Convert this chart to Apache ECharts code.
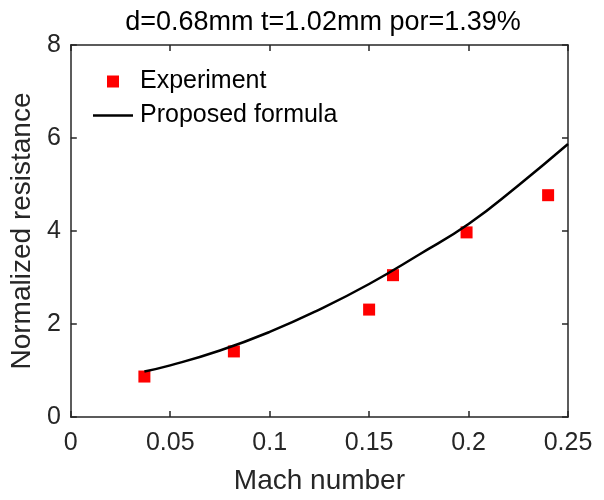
<!DOCTYPE html>
<html>
<head>
<meta charset="utf-8">
<script src="https://cdn.jsdelivr.net/npm/echarts@6/dist/echarts.min.js"></script>
<style>
html,body{margin:0;padding:0;background:#fff;}
#chart{width:604px;height:500px;}
</style>
</head>
<body>
<div id="chart"></div>
<script>
var titleText = 'd=0.68mm t=1.02mm por=1.39%';
var xTicks = [0, 0.05, 0.1, 0.15, 0.2, 0.25];
var yTicks = [0, 2, 4, 6, 8];

// measured points
var expMach = [0.037, 0.082, 0.150, 0.162, 0.199, 0.240];
var expRes  = [0.87, 1.41, 2.31, 3.05, 3.97, 4.77];

// curve
var fitMach = [0.037, 0.05, 0.075, 0.1, 0.125, 0.15, 0.175, 0.2, 0.225, 0.25];
var fitRes  = [0.98, 1.11, 1.43, 1.83, 2.31, 2.86, 3.49, 4.15, 4.98, 5.87];

var font = 'Liberation Sans, Arial, Helvetica, sans-serif';
var axisCol = '#262626';

function pairs(xs, ys) {
    var out = [];
    for (var i = 0; i < xs.length; i++) out.push([xs[i], ys[i]]);
    return out;
}

var myChart = echarts.init(document.getElementById('chart'));

var xBase = {
    type: 'value',
    min: xTicks[0],
    max: xTicks[xTicks.length - 1],
    interval: 0.05,
    axisLine: {show: true, onZero: false, lineStyle: {color: axisCol, width: 1.5}},
    axisTick: {show: true, inside: true, length: 6, lineStyle: {color: axisCol, width: 1.5}},
    splitLine: {show: false}
};
var yBase = {
    type: 'value',
    min: yTicks[0],
    max: yTicks[yTicks.length - 1],
    interval: 2,
    axisLine: {show: true, onZero: false, lineStyle: {color: axisCol, width: 1.5}},
    axisTick: {show: true, inside: true, length: 6, lineStyle: {color: axisCol, width: 1.5}},
    splitLine: {show: false}
};

option = {
    animation: false,
    title: {
        text: titleText,
        left: 318,
        textAlign: 'center',
        top: 4,
        textStyle: {fontFamily: font, fontSize: 27, fontWeight: 'normal', color: '#000'}
    },
    legend: {
        orient: 'vertical',
        left: 88,
        top: 64,
        itemWidth: 40,
        itemHeight: 12,
        itemGap: 9,
        symbolKeepAspect: true,
        textStyle: {fontFamily: font, fontSize: 25, color: '#000', padding: [0, 0, 0, 2]},
        data: [
            {name: 'Experiment', icon: 'path://M0,0L12,0L12,12L0,12Z'},
            {name: 'Proposed formula', icon: 'path://M0,0L40,0L40,2.5L0,2.5Z'}
        ]
    },
    grid: {left: 69, right: 36, top: 45, bottom: 74},
    xAxis: [
        Object.assign({}, xBase, {
            position: 'bottom',
            name: 'Mach number',
            nameLocation: 'middle',
            nameGap: 50,
            nameTextStyle: {fontFamily: font, fontSize: 28, color: axisCol},
            axisLabel: {show: true, margin: 14, fontFamily: font, fontSize: 25, color: axisCol}
        }),
        Object.assign({}, xBase, {position: 'top', axisLabel: {show: false}})
    ],
    yAxis: [
        Object.assign({}, yBase, {
            position: 'left',
            name: 'Normalized resistance',
            nameLocation: 'middle',
            nameGap: 31,
            nameTextStyle: {fontFamily: font, fontSize: 28, color: axisCol},
            axisLabel: {show: true, margin: 10, fontFamily: font, fontSize: 25, color: axisCol}
        }),
        Object.assign({}, yBase, {position: 'right', axisLabel: {show: false}})
    ],
    series: [
        {
            name: 'Experiment',
            type: 'scatter',
            symbol: 'rect',
            symbolSize: 12,
            itemStyle: {color: '#ff0000', opacity: 1},
            data: pairs(expMach, expRes),
            z: 3
        },
        {
            name: 'Proposed formula',
            type: 'line',
            smooth: true,
            symbol: 'none',
            lineStyle: {color: '#000', width: 2.5},
            itemStyle: {color: '#000'},
            data: pairs(fitMach, fitRes),
            z: 4
        }
    ]
};

myChart.setOption(option);
</script>
</body>
</html>
